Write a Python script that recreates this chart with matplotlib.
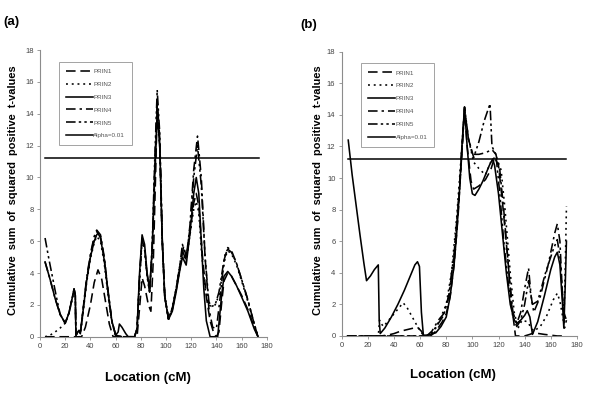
import matplotlib
matplotlib.use("Agg")
import matplotlib.pyplot as plt

plt.rcParams['font.family'] = ['Liberation Sans', 'DejaVu Sans']

# ---------------- data: panel (a) ---------------- #

a_prin1_x = [4, 10, 20, 28, 33, 36, 40, 43, 46, 49, 52, 55, 58, 65, 77, 79, 81, 83, 86, 88, 90, 92, 93, 95, 97, 99, 102, 105, 108, 111, 114, 116, 119, 122, 124, 126, 129, 132, 135, 138, 140, 142, 144, 146, 149, 152, 156, 160, 165, 170, 173]
a_prin1_y = [0, 0, 0, 0, 0, 0.6, 2.0, 3.4, 4.2, 3.6, 2.2, 0.8, 0, 0, 0, 1.8, 3.7, 3.2, 2.0, 1.6, 5.0, 11.0, 14.5, 12.0, 6.0, 2.5, 1.1, 1.8, 3.0, 4.4, 5.7, 5.0, 6.5, 8.4, 9.0, 8.2, 5.0, 2.5, 1.0, 0.2, 0, 0.3, 2.0, 3.5, 4.0, 3.8, 3.2, 2.6, 1.7, 0.6, 0]

a_prin2_x = [4, 8, 12, 16, 20, 23, 26, 27, 28, 28.5, 30, 31, 32, 34, 37, 40, 43, 45, 48, 51, 54, 57, 60, 65, 75, 77, 79, 81, 83, 85, 87, 89, 91, 93, 95, 97, 99, 102, 105, 108, 111, 113, 116, 119, 122, 124, 126, 128, 131, 134, 136, 139, 142, 145, 147, 149, 152, 156, 160, 165, 170, 173]
a_prin2_y = [0, 0.1, 0.3, 0.55, 0.85, 1.5, 2.5, 2.9, 2.5, 0.1, 0.3, 0.4, 0.2, 1.4, 3.4, 4.9, 5.9, 6.3, 6.0, 4.6, 2.6, 0.9, 0.1, 0, 0, 0.5, 3.5, 6.0, 5.5, 3.8, 2.8, 5.2, 9.8, 14.2, 12.0, 6.0, 2.5, 1.1, 1.8, 3.0, 4.5, 5.3, 4.7, 6.4, 8.0, 8.5, 7.8, 5.5, 3.0, 2.0, 1.9, 2.0, 2.6, 4.0, 5.0, 5.4, 5.2, 4.5, 3.5, 2.2, 0.8, 0]

a_prin3_x = [4, 8, 12, 16, 20, 23, 26, 27, 28, 28.5, 30, 31, 32, 34, 37, 40, 43, 45, 46, 48, 51, 54, 57, 60, 62, 63, 65, 68, 70, 75, 77, 79, 81, 83, 85, 87, 89, 91, 93, 95, 97, 99, 102, 105, 108, 111, 113, 116, 119, 122, 124, 126, 128, 130, 132, 135, 138, 141, 144, 146, 149, 152, 156, 160, 165, 170, 173]
a_prin3_y = [4.7, 3.6, 2.4, 1.4, 0.85, 1.5, 2.6, 3.0, 2.6, 0.1, 0.3, 0.4, 0.2, 1.5, 3.5, 5.0, 6.0, 6.4, 6.5, 6.2, 4.8, 2.8, 1.0, 0.1, 0.3, 0.8, 0.6, 0.2, 0, 0, 0.5, 4.0, 6.4, 5.8, 4.0, 3.0, 5.5, 10.0, 14.0, 12.0, 6.0, 2.5, 1.1, 1.6, 2.8, 4.2, 5.0, 4.5, 6.5, 9.0, 10.0, 9.0, 6.0, 3.0, 1.0, 0, 0, 0, 2.5, 3.8, 4.1, 3.8, 3.2, 2.5, 1.6, 0.5, 0]

a_prin4_x = [4, 8, 12, 16, 20, 23, 26, 27, 28, 28.5, 30, 31, 32, 34, 37, 40, 43, 45, 48, 51, 54, 57, 60, 65, 75, 77, 79, 81, 83, 85, 87, 89, 91, 93, 95, 97, 99, 102, 105, 108, 111, 113, 116, 119, 122, 125, 128, 131, 134, 137, 140, 143, 146, 149, 152, 156, 160, 165, 170, 173]
a_prin4_y = [4.7, 3.6, 2.4, 1.4, 0.85, 1.5, 2.6, 3.0, 2.6, 0.1, 0.3, 0.4, 0.2, 1.6, 3.7, 5.2, 6.3, 6.7, 6.4, 5.0, 2.9, 1.0, 0.1, 0, 0, 0.5, 3.8, 6.2, 5.6, 3.9, 2.9, 5.5, 10.5, 14.8, 12.5, 6.2, 2.6, 1.1, 1.7, 2.9, 4.3, 5.4, 4.8, 7.0, 10.5, 12.6, 10.0, 5.0, 1.8, 0.6, 0.5, 2.5, 4.8, 5.6, 5.4, 4.6, 3.6, 2.3, 0.8, 0]

a_prin5_x = [4, 7, 10, 13, 16, 20, 23, 26, 27, 28, 28.5, 30, 31, 32, 34, 37, 40, 43, 45, 48, 51, 54, 57, 60, 65, 75, 77, 79, 81, 83, 85, 87, 89, 91, 93, 95, 97, 99, 102, 105, 108, 111, 113, 116, 119, 122, 125, 128, 131, 134, 136, 139, 142, 145, 147, 149, 152, 156, 160, 165, 170, 173]
a_prin5_y = [6.2, 4.9, 3.7, 2.5, 1.4, 0.85, 1.5, 2.6, 3.0, 2.6, 0.1, 0.3, 0.4, 0.2, 1.6, 3.6, 5.1, 6.2, 6.6, 6.3, 4.9, 2.8, 1.0, 0.1, 0, 0, 0.5, 3.7, 6.1, 5.5, 3.8, 2.8, 5.6, 11.0, 15.5, 12.8, 6.2, 2.6, 1.1, 1.8, 3.0, 4.5, 5.8, 5.0, 6.8, 10.0, 12.0, 9.5, 5.0, 2.2, 1.9, 2.0, 2.8, 4.3, 5.2, 5.5, 5.3, 4.6, 3.6, 2.3, 0.8, 0]

a_alpha_x = [4, 174]
a_alpha_y = [11.2, 11.2]

# ---------------- data: panel (b) ---------------- #

b_prin1_x = [4, 30, 35, 40, 45, 50, 55, 58, 61, 63, 68, 72, 77, 80, 83, 86, 89, 91.5, 94, 96, 99, 101, 105, 110, 114, 117, 120, 123, 127, 130, 133, 140, 144, 147, 151, 155, 160, 165, 172]
b_prin1_y = [0, 0, 0.05, 0.15, 0.3, 0.4, 0.5, 0.55, 0.3, 0, 0, 0.3, 0.9, 1.4, 2.5, 4.5, 7.5, 11.0, 14.4, 12.0, 9.8, 9.3, 9.5, 9.9, 10.5, 11.3, 10.8, 8.5, 5.0, 2.0, 0, 0, 0.1, 0.2, 0.15, 0.1, 0.05, 0, 0]

b_prin2_x = [4, 28, 29, 30, 32, 36, 40, 44, 47, 50, 54, 58, 62, 66, 72, 76, 80, 84, 88, 92, 94, 97, 101, 105, 110, 114, 118, 122, 125, 129, 132, 135, 138, 142, 147, 152, 157, 162, 165, 167, 170, 171, 172]
b_prin2_y = [0, 0, 1.0, 0.8, 0.6, 1.0, 1.4, 1.8, 2.1, 1.8, 1.2, 0.6, 0.1, 0, 0.5, 1.2, 2.0, 4.0, 7.5, 12.0, 14.3, 12.5, 11.0, 10.6, 10.2, 11.0, 11.4, 10.5, 8.0, 4.0, 1.5, 0.5, 1.0, 0.9, 0.3, 0.6, 1.3, 2.3, 2.7, 2.2, 0.8, 4.0, 8.2]

b_prin3_x = [5, 8, 11, 14, 17, 19, 22, 25, 28, 28.7, 29.5, 33, 38, 43, 48, 53, 56, 58, 59.5, 61, 62.5, 65, 68, 72, 76, 80, 83, 86, 88, 90, 92, 94, 96, 98, 100, 102, 105, 108, 111, 113, 115.5, 117, 120, 123, 126, 129, 132, 134, 137, 140, 142, 144, 146, 150, 155, 160, 163, 165, 167, 169, 170, 171, 172]
b_prin3_y = [12.4, 10.2, 8.3, 6.4, 4.6, 3.5, 3.8, 4.2, 4.5, 1.0, 0.15, 0.5, 1.2, 2.0, 2.9, 3.9, 4.5, 4.7, 4.4, 1.5, 0.05, 0.05, 0.1, 0.2, 0.6, 1.2, 2.5, 4.5, 6.5, 9.0, 12.0, 14.5, 12.0, 10.0, 9.0, 8.9, 9.3, 9.8, 10.4, 10.8, 11.2, 10.8, 9.0, 6.5, 4.0, 2.0, 1.0, 0.8, 1.0, 1.3, 1.6, 1.2, 0.1, 0.9, 2.5, 4.2, 5.0, 5.3, 4.5, 2.0, 0.5, 3.0, 6.0]

b_prin4_x = [4, 65, 69, 74, 78, 82, 86, 90, 94, 97, 100, 105, 110, 115, 118, 121, 124, 128, 131, 134, 137, 140, 143, 145, 147, 152, 158, 163, 165, 167, 169, 170.5, 172]
b_prin4_y = [0, 0, 0.3, 1.0, 1.4, 2.5, 5.0, 9.0, 14.3, 12.5, 11.5, 11.5, 11.6, 11.8, 11.5, 10.5, 8.0, 4.0, 1.5, 0.8, 1.5, 3.0, 4.3, 2.5, 1.5, 2.5, 4.5, 6.5, 7.1, 6.0, 2.5, 0.5, 1.0]

b_prin5_x = [4, 65, 69, 74, 78, 82, 86, 90, 94, 97, 101, 105, 109, 113.5, 115, 118, 121, 124, 128, 131, 134, 137, 140, 143, 146, 150, 156, 162, 165, 167, 170, 172]
b_prin5_y = [0, 0, 0.2, 0.8, 1.3, 2.6, 5.2, 9.2, 14.5, 12.5, 11.3, 12.3, 13.6, 14.7, 12.0, 11.5, 9.0, 6.0, 3.0, 1.2, 0.6, 1.0, 2.0, 3.5, 2.0, 2.2, 4.0, 5.5, 6.1, 5.0, 1.5, 1.0]

b_alpha_x = [5, 172]
b_alpha_y = [11.2, 11.2]

labels = ['PRIN1', 'PRIN2', 'PRIN3', 'PRIN4', 'PRIN5', 'Alpha=0.01']

# ---------------- styles ---------------- #

dashes = [(6, 3), (1.2, 2.4), None, (6, 2.5, 1.5, 2.5), (6, 2, 1.5, 2, 1.5, 2), None]
grey = '#8c8c8c'


def draw_panel(ax, series, alpha):
    for (x, y), d, lab in zip(series, dashes, labels):
        if d is None:
            ax.plot(x, y, color='black', lw=1.15, label=lab)
        else:
            ax.plot(x, y, color='black', lw=1.15, dashes=d, label=lab)
    ax.plot(alpha[0], alpha[1], color='black', lw=1.1, label=labels[-1])

    ax.set_xlim(0, 180)
    ax.set_ylim(0, 18)
    ax.set_xticks(range(0, 181, 20))
    ax.set_yticks(range(0, 19, 2))
    for s in ['top', 'right']:
        ax.spines[s].set_visible(False)
    for s in ['left', 'bottom']:
        ax.spines[s].set_color(grey)
        ax.spines[s].set_linewidth(0.8)
    ax.tick_params(colors=grey, labelcolor='#444444', labelsize=5.5, length=2.5, width=0.6, pad=2)

    leg = ax.legend(loc='upper left', bbox_to_anchor=(0.07, 0.97), fontsize=4.5,
                    handlelength=4.3, handletextpad=0.1, labelspacing=1.2,
                    borderpad=1.1, fancybox=False, frameon=True)
    leg.get_frame().set_edgecolor(grey)
    leg.get_frame().set_linewidth(0.7)
    for t in leg.get_texts():
        t.set_color('#555555')


fig = plt.figure(figsize=(6, 3.99), dpi=100)

ax_a = fig.add_axes([0.0667, 0.156, 0.378, 0.7185])
ax_b = fig.add_axes([0.5695, 0.158, 0.392, 0.7125])

draw_panel(ax_a, [(a_prin1_x, a_prin1_y), (a_prin2_x, a_prin2_y), (a_prin3_x, a_prin3_y),
                  (a_prin4_x, a_prin4_y), (a_prin5_x, a_prin5_y)], (a_alpha_x, a_alpha_y))
draw_panel(ax_b, [(b_prin1_x, b_prin1_y), (b_prin2_x, b_prin2_y), (b_prin3_x, b_prin3_y),
                  (b_prin4_x, b_prin4_y), (b_prin5_x, b_prin5_y)], (b_alpha_x, b_alpha_y))

ylab = 'Cumulative  sum  of  squared  positive  t-values'
fig.text(13 / 600, 1 - 190 / 399, ylab, rotation=90, ha='center', va='center',
         fontsize=7.9, fontweight='bold')
fig.text(318 / 600, 1 - 190 / 399, ylab, rotation=90, ha='center', va='center',
         fontsize=7.9, fontweight='bold')
fig.text(148 / 600, 1 - 378 / 399, 'Location (cM)', ha='center', va='center',
         fontsize=9.5, fontweight='bold')
fig.text(453 / 600, 1 - 375 / 399, 'Location (cM)', ha='center', va='center',
         fontsize=9.5, fontweight='bold')
fig.text(3 / 600, 1 - 22 / 399, '(a)', ha='left', va='center', fontsize=9.5, fontweight='bold')
fig.text(300 / 600, 1 - 25 / 399, '(b)', ha='left', va='center', fontsize=9.5, fontweight='bold')

fig.savefig('out.png', dpi=100)
